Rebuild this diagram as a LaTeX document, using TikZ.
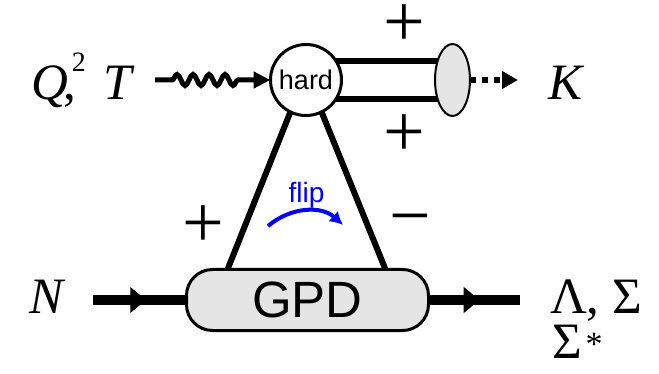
\documentclass[tikz,border=0pt]{standalone}
\usepackage{fontspec}
\setmainfont{Liberation Serif}
\setsansfont{Liberation Sans}
\usetikzlibrary{arrows.meta,decorations.pathmorphing,decorations.markings,shapes.geometric,backgrounds,calc}
\definecolor{boxgray}{RGB}{229,229,229}
\definecolor{flipblue}{RGB}{0,0,255}
\newcommand{\bigserif}{\fontsize{51}{51}\selectfont}
\newcommand{\signfont}{\fontsize{74}{74}\selectfont}
\begin{document}
\begin{tikzpicture}[x=1pt,y=-1pt,
  label/.style={anchor=base west, inner sep=0, outer sep=0, font=\bigserif},
  sign/.style={inner sep=0, outer sep=0, font=\signfont},
  thick line/.style={line width=6pt},
  fermion/.style={line width=9.5pt, postaction={decorate},
    decoration={markings, mark=at position #1 with {\arrow{Triangle[length=16pt,width=25pt]}}}},
  photon/.style={line width=5pt, decorate,
    decoration={snake, segment length=16pt, amplitude=5.5pt, pre length=17pt, post length=32pt}},
]
\useasboundingbox (0,0) rectangle (659,374);

% nodes
\node[circle, draw, line width=3pt, fill=white, minimum size=71pt, inner sep=0, outer sep=0,
      font=\sffamily\fontsize{27}{27}\selectfont] (hard) at (306,80) {hard};
\node[ellipse, draw, line width=2pt, fill=boxgray, minimum width=35pt, minimum height=72pt,
      inner sep=0, outer sep=0] (meson) at (452.5,80) {};
\node[draw, line width=3pt, fill=boxgray, rounded corners=26pt, minimum width=242pt,
      minimum height=61pt, inner sep=0, outer sep=0,
      font=\sffamily\fontsize{51}{51}\selectfont] (gpd) at (307.5,300) {GPD};

% labels
\node[label] (qt) at (31,100) {\textit{Q}\kern-4pt\rlap{,}\kern8pt\raisebox{28pt}{\fontsize{28}{28}\selectfont 2}\hspace{18pt}\textit{T}};
\node[label] (k) at (548,100) {\textit{K}};
\node[label] (n) at (30,313) {\textit{N}};
\node[label] (lam) at (550,313) {Λ, Σ};
\node[label] (sig) at (552,358) {Σ\kern4pt\raisebox{3pt}{\fontsize{34}{34}\selectfont *}};

\node[sign] (p1) at (404.5,25.5) {+};
\node[sign] (p2) at (404.5,135.5) {+};
\node[sign] (p3) at (203.5,227) {+};
\node[sign] (m1) at (410,227) {−};

\node[inner sep=0, outer sep=0, text=flipblue, font=\sffamily\fontsize{28}{28}\selectfont] (flip) at (306.5,195) {flip};

% connectors
\coordinate (qend) at (155,80);
\coordinate (kend) at (518,80);
\coordinate (nstart) at (93,300);
\coordinate (outend) at (520,300);
\coordinate (flipA) at (268,226);
\coordinate (flipB) at (343,225);

\begin{scope}[on background layer]
  \draw[thick line] ($(hard.center)+(0,-18.5)$) -- ($(meson.center)+(0,-18.5)$);
  \draw[thick line] ($(hard.center)+(0,19)$) -- ($(meson.center)+(0,19)$);
  \draw[thick line] (hard.244) -- ($(gpd.north)+(-80,0)$);
  \draw[thick line] (hard.296) -- ($(gpd.north)+(78,0)$);
  \draw[fermion=0.57] (nstart) -- (gpd.west);
  \draw[fermion=0.56] (gpd.east) -- (outend);
\end{scope}

\draw[photon, -{Triangle[length=17pt,width=16pt]}] (qend) -- (hard.west);
\draw[line width=6pt, dash pattern=on 6pt off 6pt, -{Triangle[length=16pt,width=17pt]}] (meson.east) -- (kend);
\draw[flipblue, line width=4pt, -{Latex[length=13pt,width=14pt]}] (flipA) .. controls (292,206) and (322,206) .. (flipB);
\end{tikzpicture}
\end{document}
